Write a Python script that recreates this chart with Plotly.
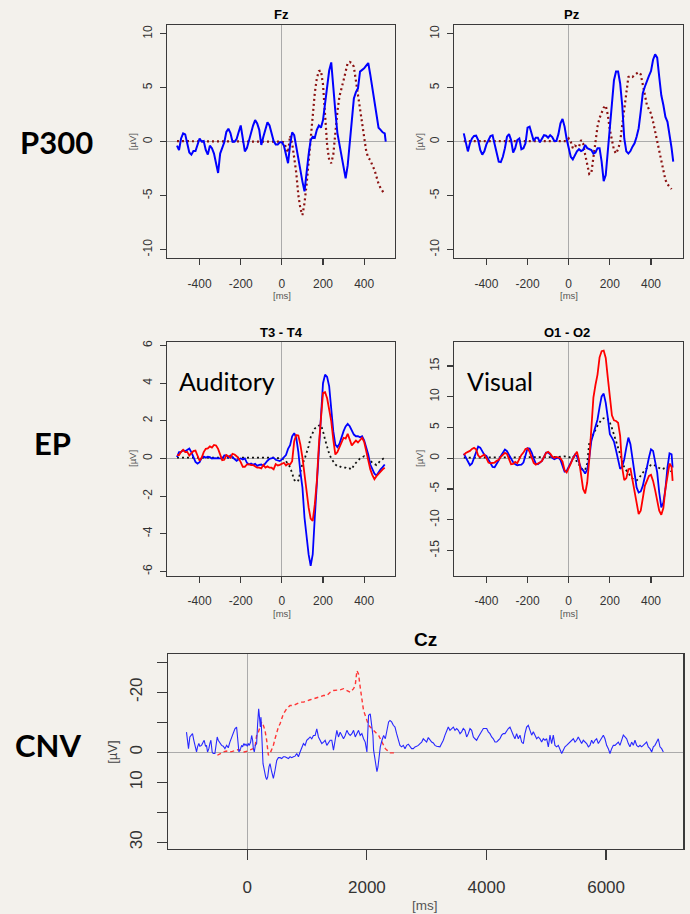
import numpy as np
import plotly.graph_objects as go

# ---------------- DATA ----------------
# P300 / EP time base (ms)
t_grid = list(range(-510, 501, 10))

# Fz
fz_blue_t = t_grid + [505]
fz_blue = [-0.37, -0.77, 0.3, 0.77, 0.68, -0.3, -1.0, -1.2, -0.87, -0.87,
           -0.15, 0.3, 0.0, 0.06, -0.77, -1.2, -0.37, -0.6, -1.1, -2.2,
           -2.9, -1.1, -0.6, -0.06, 0.9, 1.2, 0.8, 0.0, 0.0, 0.25,
           0.9, 1.5, 0.3, -0.9, -0.6, 0.15, 0.9, 1.5, 2.0, 1.7,
           1.1, -0.3, 0.45, 1.1, 1.8, 1.5, 0.7, 0.06, -0.25, -0.25,
           -0.06, -0.06, -0.37, -1.2, -2.0, -0.3, 0.87, 0.6, -0.46, -1.5,
           -2.9, -3.7, -4.6, -2.8, -1.2, 0.15, 0.46, 0.37, 1.1, 1.5,
           1.3, 2.0, 3.7, 5.4, 6.6, 7.35, 4.8, 2.8, 0.8, -0.3,
           -1.5, -2.6, -3.4, -2.2, 0.0, 2.5, 4.0, 4.6, 4.95, 6.5,
           6.65, 6.8, 7.05, 7.3, 6.2, 4.95, 3.4, 2.6, 1.3, 1.1,
           0.87, 0.77, 0.0]
fz_red_t = [-510, -400, -300, -200, -100, -10] + list(range(0, 501, 10))
fz_red = [0.05, 0.05, 0.05, 0.05, 0.05, 0.05,
          0.0, -0.06, -0.6, -1.0, 0.55, -0.15, -1.5, -2.9, -4.95, -6.2,
          -6.8, -5.7, -4.0, -1.85, 0.3, 2.5, 4.5, 5.9, 6.55, 6.6,
          5.3, 2.5, -0.3, -1.7, -2.0, -1.2, 0.9, 2.8, 4.2, 5.1,
          5.7, 6.5, 7.3, 7.4, 7.3, 6.95, 5.6, 4.3, 2.8, 1.55,
          0.25, -0.87, -1.5, -1.7, -2.2, -2.6, -3.25, -3.9, -4.3, -4.6,
          -4.9]

# Pz
pz_blue_t = t_grid + [508]
pz_blue = [0.77, -0.15, -0.9, -0.15, 0.3, 0.53, 0.56, 0.15, -0.77, -1.2,
           -0.9, -0.25, 0.15, 0.53, 0.6, -0.15, -0.9, -1.85, -1.9, -1.4,
           -0.6, 0.46, 0.7, 0.15, -1.0, -0.6, 0.15, 0.3, -0.7, -0.6,
           -0.15, 1.3, 1.4, 0.6, 0.06, 0.37, 0.37, -0.06, 0.25, 0.6,
           0.55, 0.37, 0.6, 0.43, 0.06, 0.06, 0.7, 1.7, 2.1, 1.4,
           0.25, -0.46, -1.4, -1.65, -1.3, -0.9, -0.7, -0.87, -0.77, -0.3,
           -0.6, -0.7, -0.77, -1.1, -1.0, -0.6, -0.6, -1.85, -3.65, -3.1,
           -0.77, 1.55, 4.0, 5.7, 6.5, 6.5, 5.4, 3.4, 0.3, -0.9,
           -1.1, -0.87, -0.46, -0.15, 0.46, 1.25, 2.8, 4.5, 5.1, 5.7,
           6.1, 6.55, 7.6, 8.1, 7.8, 6.0, 4.3, 3.4, 2.3, 1.85,
           0.77, -0.6, -1.85]
pz_red_t = [-510, -400, -300, -200, -100, -10] + list(range(0, 501, 10))
pz_red = [0.05, 0.05, 0.05, 0.05, 0.05, 0.05,
          0.3, 0.0, -0.6, -0.37, -0.46, -0.46, 0.15, -0.15, -1.2, -2.2,
          -3.0, -2.9, -1.55, 0.15, 1.4, 2.2, 2.6, 3.15, 3.35, 2.5,
          1.1, 0.0, -0.77, -1.1, -0.7, 0.0, 1.55, 3.4, 5.0, 6.0,
          6.1, 6.0, 6.2, 6.35, 6.45, 6.25, 5.4, 4.4, 3.4, 3.0,
          2.6, 1.85, 1.0, -0.15, -0.9, -1.7, -2.6, -3.55, -3.95, -4.2,
          -4.4]

# T3 - T4 (auditory)
aud_t = t_grid
aud_blue = [0.07, 0.34, 0.35, 0.44, 0.39, 0.48, 0.53, 0.34, 0.12, -0.18,
            -0.27, -0.2, 0.03, 0.1, 0.05, 0.09, 0.07, 0.0, 0.02, 0.0,
            0.0, 0.0, -0.02, 0.16, 0.16, 0.04, 0.16, 0.07, 0.02, -0.12,
            -0.04, 0.0, -0.05, 0.0, -0.23, -0.32, -0.27, -0.34, -0.28, -0.39,
            -0.34, -0.32, -0.39, -0.23, -0.12, -0.02, 0.02, 0.04, -0.07, -0.12,
            -0.14, -0.05, 0.04, 0.18, 0.51, 0.71, 1.18, 1.34, 1.1, 0.35,
            -0.71, -1.55, -3.14, -4.2, -5.1, -5.7, -5.1, -3.14, -1.2, 0.48,
            2.6, 4.0, 4.45, 4.33, 3.83, 2.6, 1.45, 0.74, 0.6, 0.78,
            1.18, 1.45, 1.7, 1.84, 1.71, 1.48, 1.27, 1.18, 1.18, 1.13,
            1.18, 0.97, 0.6, 0.21, -0.32, -0.62, -0.81, -0.9, -0.71, -0.58,
            -0.46, -0.32]
aud_red = [0.18, 0.18, 0.35, 0.46, 0.34, 0.35, 0.16, 0.28, 0.39, 0.42,
           0.12, -0.12, 0.04, 0.34, 0.51, 0.53, 0.64, 0.58, 0.72, 0.69,
           0.51, 0.21, -0.09, -0.07, 0.18, 0.12, 0.04, 0.25, 0.21, 0.12,
           0.0, -0.19, -0.44, -0.44, -0.32, -0.3, -0.35, -0.35, -0.41, -0.49,
           -0.49, -0.53, -0.34, -0.48, -0.42, -0.49, -0.49, -0.58, -0.3, -0.37,
           -0.34, -0.28, -0.23, -0.37, -0.28, -0.32, -0.14, 0.92, 1.24, 1.22,
           0.74, 0.04, -0.85, -1.9, -2.6, -3.2, -3.32, -2.44, -1.2, 0.74,
           2.33, 3.48, 3.52, 3.2, 2.6, 1.98, 1.0, 0.21, 0.34, 0.57,
           0.88, 1.1, 1.06, 1.31, 1.0, 0.69, 0.83, 0.95, 0.85, 0.95,
           1.1, 0.88, 0.35, -0.23, -0.58, -0.88, -1.1, -0.94, -0.8, -0.67,
           -0.58, -0.49]
aud_black_t = [-510, -400, -300, -200, -100, -50, 0, 20, 40, 50, 60, 70, 80, 90,
               100, 110, 120, 130, 140, 150, 160, 170, 180, 190, 200, 210, 220,
               230, 240, 250, 260, 270, 280, 290, 300, 310, 320, 330, 340, 350,
               360, 380, 400, 420, 440, 460, 470, 480, 500]
aud_black = [0.05, 0.05, 0.07, 0.05, 0.05, 0.05, 0.0, -0.14, -0.46, -0.85, -1.13,
             -1.25, -1.17, -0.71, -0.28, -0.05, 0.25, 0.65, 1.13, 1.41, 1.59,
             1.66, 1.75, 1.77, 1.45, 1.0, 0.6, 0.25, 0.0, -0.19, -0.32, -0.41,
             -0.41, -0.48, -0.49, -0.49, -0.55, -0.53, -0.58, -0.35, -0.23, 0.0,
             0.12, 0.0, -0.23, -0.35, -0.23, -0.1, 0.04]

# O1 - O2 (visual)
vis_t = t_grid + [505]
vis_blue = [0.76, 0.16, -0.43, -1.14, -0.86, 0.11, 1.19, 1.89, 1.73, 1.03,
            0.54, 0.38, -0.16, -0.86, -1.4, -1.46, -0.97, -0.32, 0.38, 0.97,
            1.4, 1.14, 0.54, -0.11, -0.65, -0.97, -1.14, -1.08, -1.03, -0.7,
            0.38, 1.62, 1.57, 0.92, -0.05, -0.86, -0.97, -0.76, -0.43, 0.22,
            0.92, 0.92, 0.65, 0.05, -0.16, 0.0, 0.11, -0.27, -1.3, -2.16,
            -2.05, -1.35, -0.76, -0.11, 0.59, 0.32, -0.7, -1.62, -1.95, -2.49,
            -1.84, 0.11, 2.8, 3.9, 4.97, 6.3, 8.3, 10.05, 10.5, 9.0,
            6.6, 3.9, 3.35, 2.7, 1.3, -0.16, -1.73, -1.4, -0.16, 1.73,
            3.35, 2.27, 0.11, -2.6, -4.75, -5.57, -5.4, -4.5, -3.24, -1.51,
            0.11, 1.46, 1.19, -0.43, -2.3, -5.57, -8.0, -7.2, -5.0, -1.5,
            0.81, 0.65, -1.5]
vis_red = [0.49, 0.86, 1.03, 1.19, 1.51, 1.68, 1.46, 0.43, 0.16, 0.43,
           0.59, 0.0, -0.7, -0.81, -0.7, -0.7, -0.43, -0.27, 0.22, 0.54,
           0.86, 0.7, 0.0, -0.97, -0.92, -0.59, -0.81, -0.11, 0.54, 0.92,
           1.51, 1.62, 1.03, 0.11, -0.76, -1.03, -0.92, -0.7, -0.43, 0.22,
           0.86, 1.03, 0.76, 0.27, 0.05, 0.22, 0.11, 0.0, -0.54, -1.95,
           -2.32, -1.68, -0.86, -0.05, 0.54, 1.08, -0.32, -2.86, -5.0, -5.73,
           -3.95, -0.16, 5.5, 9.84, 11.9, 13.6, 16.4, 17.4, 17.5, 16.3,
           13.1, 9.57, 6.97, 6.16, 6.05, 5.78, 3.62, -1.51, -3.57, -3.24,
           -1.78, -1.68, -3.57, -5.84, -7.73, -9.08, -8.54, -6.1, -4.49, -3.68,
           -2.86, -2.7, -3.68, -5.19, -6.92, -8.54, -9.19, -8.1, -5.0, -2.6,
           -0.86, -1.4, -3.68]
vis_black_t = [-510, -400, -300, -200, -100, -50, -20, 0, 20, 40, 60, 70, 80, 90,
               100, 110, 120, 130, 140, 150, 160, 170, 180, 190, 200, 210, 220,
               230, 240, 250, 260, 270, 280, 290, 300, 310, 320, 330, 340, 350,
               360, 370, 380, 390, 400, 410, 420, 430, 440, 450, 460, 470, 480,
               490, 500]
vis_black = [0.1, 0.1, 0.1, 0.15, 0.1, 0.2, 0.3, 0.1, 0.4, -0.5, -1.5, -2.0, -1.9,
             -0.8, 2.5, 3.3, 3.9, 4.6, 5.3, 5.9, 6.3, 6.5, 6.6, 6.4, 5.8, 4.9,
             3.8, 2.6, 1.4, 0.3, -0.7, -1.5, -2.0, -2.5, -3.0, -3.3, -3.5, -3.6,
             -3.3, -2.8, -2.3, -1.9, -1.6, -1.3, -1.1, -1.0, -1.2, -1.5, -1.7,
             -1.8, -1.7, -1.5, -1.4, -1.8, -2.2]

# Cz (CNV), ms and microvolts (axis drawn negative-up)
cz_blue_t = [-1017, -1000, -983, -961, -933, -916, -894, -872, -849, -832, -810,
             -793, -765, -737, -721, -698, -682, -665, -643, -626, -609, -587,
             -570, -542, -525, -503, -486, -458, -430, -402, -374, -346, -318,
             -291, -263, -235, -207, -179, -162, -140, -112, -95, -78, -56, -39,
             -22, 0, 17, 34, 56, 73, 89, 101, 117, 134, 156, 173, 190, 201, 218,
             229, 240, 251, 263, 274, 291, 307, 324, 341, 363, 380, 408, 436,
             464, 492, 520, 548, 575, 603, 631, 659, 687, 715, 743, 771, 799,
             827, 855, 883, 911, 939, 967, 994, 1022, 1050, 1078, 1106, 1134,
             1162, 1190, 1218, 1246, 1274, 1302, 1330, 1358, 1386, 1413, 1441,
             1469, 1497, 1525, 1553, 1581, 1609, 1637, 1665, 1693, 1721, 1749,
             1777, 1805, 1833, 1860, 1888, 1916, 1944, 1972, 2000, 2028, 2056,
             2073, 2084, 2101, 2112, 2140, 2168, 2185, 2196, 2224, 2252, 2280,
             2308, 2336, 2363,
             2386, 2414, 2442, 2470, 2497, 2525, 2553, 2581, 2609, 2637, 2665,
             2693, 2720, 2748, 2776, 2804, 2832, 2860, 2888, 2916, 2943, 2971,
             2999, 3027, 3055, 3083, 3111, 3138, 3166, 3194, 3222, 3250, 3278,
             3306, 3334, 3361, 3389, 3417, 3445, 3473, 3501, 3529, 3557, 3584,
             3612, 3640, 3668, 3696, 3724, 3752, 3780, 3807, 3835, 3863, 3891,
             3919, 3947, 3975, 4003, 4030, 4058, 4086, 4114, 4142, 4170, 4198,
             4225, 4253, 4281, 4309, 4337, 4365, 4393, 4421, 4448, 4476, 4504,
             4532, 4560, 4588, 4616, 4643, 4671, 4699, 4727, 4755, 4783, 4811,
             4839, 4866, 4894, 4922, 4950, 4978, 5006, 5034, 5062, 5089, 5117,
             5145, 5173, 5201, 5229, 5257, 5284, 5312, 5340, 5368, 5396, 5424,
             5452, 5480, 5507, 5535, 5563, 5591, 5619, 5647, 5675, 5703, 5730,
             5758, 5786, 5814, 5842, 5870, 5898, 5926, 5954, 5981, 6009, 6037,
             6065, 6093, 6121, 6149, 6176, 6204, 6232, 6260, 6288, 6316, 6344,
             6372, 6399, 6427, 6455, 6483, 6511, 6539, 6567, 6595, 6622, 6650,
             6678, 6706, 6734, 6762, 6790, 6817, 6845, 6873, 6901, 6929, 6957]
cz_blue = [-6.7, -4.5, -1.2, -5.1, -5.6, -6.2, -4.0, -2.3, -0.1, -1.8, -2.9,
           -2.0, -2.3, -3.4, -4.0, -2.0, -2.3, -0.1, -1.2, -2.9, -4.0, -0.1,
           0.4, 0.4, -1.8, -5.1, -4.0, -2.9, -2.3, -2.0, -1.2, -2.3, -1.5,
           -3.4, -5.1, -6.7, -7.8, -8.4, -5.1, -0.1, -1.2, -2.3, -1.8, -2.9, -2.3,
           -2.7, -2.0, -2.9, -2.3, -3.4, -5.6, -4.0, -1.2, -0.1, -2.3, -2.9, -9.5,
           -14.5, -12.3, -8.4, -11.7, -5.1, -0.7, 3.8, 4.9, 7.1, 8.2, 9.1, 8.2,
           4.9, 3.8, 6.5, 8.7, 6.0, 2.7, 1.8, 1.8, 2.1, 1.5, 1.5, 1.8, 2.1, 1.5,
           1.8, 1.5, 1.3, 0.4, 1.5, -0.1, -1.8, -2.9, -2.3, -4.0, -4.5, -5.1,
           -4.5, -5.6, -5.6, -7.8, -5.1, -4.0, -2.9, -3.4, -4.0, -2.3, -3.4, -4.0,
           -4.0, -0.7, -4.0, -7.3, -5.1, -6.7, -5.6, -4.5, -5.6, -7.3, -6.2, -5.6,
           -6.2, -7.3, -5.1, -6.2, -7.3, -5.6, -6.2, -4.5, -3.4, -0.1, -12.3,
           -12.8, -10.6, -8.4, -5.6, -0.7, 2.7, 6.5, 4.9, 2.1, -1.8, -4.0, -5.6,
           -4.5, -7.3, -10.1,
           -10.6, -10.1, -9.0, -8.4, -6.2, -4.0, -2.3, -1.8, -2.3, -1.2, -2.3,
           -2.7, -2.0, -1.2, -1.2, -1.8, -2.0, -2.3, -2.9, -3.4, -4.5, -4.0,
           -3.4, -4.9, -4.0, -3.4, -3.1, -2.3, -2.0, -1.8, -1.8, -2.9, -4.0,
           -5.7, -6.8, -8.4, -7.3, -7.9, -8.4, -7.3, -7.9, -7.3, -6.2, -6.8,
           -7.9, -7.3, -5.1, -6.2, -7.9, -7.3, -5.1, -4.5, -4.0, -5.1, -6.2,
           -6.8, -7.9, -7.9, -7.9, -6.8, -6.2, -5.1, -4.5, -3.4, -3.4, -4.0,
           -4.5, -5.7, -6.2, -6.2, -7.3, -7.9, -8.4, -7.3, -5.7, -4.5, -6.2,
           -4.5, -5.7, -3.4, -2.9, -6.2, -8.4, -9.0, -7.3, -5.7, -6.8, -5.7,
           -4.5, -5.1, -4.5, -3.4, -4.5, -4.0, -4.5, -1.8, -5.7, -2.9, -5.7,
           -2.3, -1.8, -2.3, -0.7, 0.4, -0.7, -1.8, -2.3, -2.9, -3.4, -4.0,
           -4.5, -3.4, -4.0, -5.1, -4.0, -2.9, -4.0, -3.4, -2.9, -1.8, -2.3,
           -4.0, -2.9, -4.0, -4.5, -2.9, -4.0, -5.1, -5.7, -4.5, -2.3, -1.2,
           0.4, -1.2, -2.3, -2.3, -2.9, -3.4, -2.3, -4.5, -5.7, -5.1, -4.5,
           -2.9, -1.8, -3.4, -2.3, -4.0, -2.3, -1.8, -2.3, -1.8, -2.3, -2.9,
           -3.4, -1.8, -1.2, -0.1, -1.8, -2.3, -3.4, -4.5, -1.8, -1.2, -0.1]
cz_red_t = [-500, -450, -400, -350, -300, -250, -200, -150, -100, -50, 0, 50,
            100, 130, 156, 185, 212, 240, 268, 296, 324, 352, 380, 408, 436,
            464, 492, 520, 548, 603, 659, 715, 771, 827, 883, 939, 994, 1050,
            1106, 1162, 1218, 1274, 1330, 1386, 1441, 1497, 1553, 1609, 1665,
            1721, 1777, 1805, 1833, 1860, 1888, 1916, 1944, 1972, 2000, 2028,
            2056, 2084, 2112, 2140, 2168, 2196, 2224, 2252, 2280, 2308, 2336,
            2363, 2391, 2500]
cz_red = [1.0, 0.4, -0.1, -0.4, -0.1, -0.3, -0.7, -0.9, -0.4, -0.1, -0.4, -0.8,
          -1.2, -1.8, -5.6, -6.7, -8.4, -10.1, -9.0, -7.3, -4.0, 1.0, 0.4, -0.7,
          -2.3, -4.5, -6.7, -8.4, -9.5, -12.8, -14.5, -15.6, -15.6, -16.1,
          -16.7, -16.7, -17.2, -17.5, -17.8, -18.1, -18.6, -18.9, -18.9, -20.0,
          -20.6, -20.6, -20.8, -21.2, -20.6, -20.0, -21.2, -22.3, -27.2, -26.1,
          -21.7, -17.2, -13.9, -12.3, -10.6, -9.0, -8.4, -7.8, -7.3, -6.7, -6.2,
          -5.6, -4.5, -3.4, -2.3, -1.2, -0.7, -0.1, 0.2, 0.2]

# tick values and labels (ASCII hyphen minus, as in the original)
p300_xticks = [-400, -200, 0, 200, 400]
p300_xtext = ['-400', '-200', '0', '200', '400']
p300_yticks = [-10, -5, 0, 5, 10]
p300_ytext = ['-10', '-5', '0', '5', '10']
aud_yticks = [-6, -4, -2, 0, 2, 4, 6]
aud_ytext = ['-6', '-4', '-2', '0', '2', '4', '6']
vis_yticks = [-15, -10, -5, 0, 5, 10, 15]
vis_ytext = ['-15', '-10', '-5', '0', '5', '10', '15']
cz_xticks = [0, 2000, 4000, 6000]
cz_xtext = ['0', '2000', '4000', '6000']
cz_yticks = [-30, -20, -10, 0, 10, 20, 30]
cz_ytext = ['', '-20', '', '0', '10', '', '30']

# ---------------- FIGURE ----------------
W, H = 690, 914
BG = '#f3f1ec'
AXC = '#3a3a3a'
TICKFONT = 'Liberation Sans, Arial, sans-serif'


def dx(a, b):
    return [a / W, b / W]


def dy(top, bottom):
    return [1 - bottom / H, 1 - top / H]


def axis(domain, rng, tickvals, ticktext, size, ticklen, standoff, anchor, angle=0):
    return dict(domain=domain, range=rng, tickvals=tickvals, ticktext=ticktext, anchor=anchor,
                showline=True, mirror=True, linecolor=AXC, linewidth=1.2,
                ticks='outside', ticklen=ticklen, tickwidth=1.2, tickcolor=AXC,
                showgrid=False, zeroline=True, zerolinecolor='#ababab', zerolinewidth=1.2,
                tickfont=dict(family=TICKFONT, size=size, color='#333333'),
                ticklabelstandoff=standoff, tickangle=angle, fixedrange=True)


fig = go.Figure()

BLUE = '#0000ff'
RED = '#ff0000'
DRED = '#8b1010'
DOT = '2px,3px'

# Fz
fig.add_trace(go.Scatter(x=fz_red_t, y=fz_red, mode='lines', line=dict(color=DRED, width=2.2, dash=DOT), xaxis='x', yaxis='y'))
fig.add_trace(go.Scatter(x=fz_blue_t, y=fz_blue, mode='lines', line=dict(color=BLUE, width=2.0), xaxis='x', yaxis='y'))
# Pz
fig.add_trace(go.Scatter(x=pz_red_t, y=pz_red, mode='lines', line=dict(color=DRED, width=2.2, dash=DOT), xaxis='x2', yaxis='y2'))
fig.add_trace(go.Scatter(x=pz_blue_t, y=pz_blue, mode='lines', line=dict(color=BLUE, width=2.0), xaxis='x2', yaxis='y2'))
# T3 - T4
fig.add_trace(go.Scatter(x=aud_black_t, y=aud_black, mode='lines', line=dict(color='#111111', width=1.8, dash=DOT), xaxis='x3', yaxis='y3'))
fig.add_trace(go.Scatter(x=aud_t, y=aud_blue, mode='lines', line=dict(color=BLUE, width=1.8), xaxis='x3', yaxis='y3'))
fig.add_trace(go.Scatter(x=aud_t, y=aud_red, mode='lines', line=dict(color=RED, width=1.8), xaxis='x3', yaxis='y3'))
# O1 - O2
fig.add_trace(go.Scatter(x=vis_black_t, y=vis_black, mode='lines', line=dict(color='#111111', width=1.8, dash=DOT), xaxis='x4', yaxis='y4'))
fig.add_trace(go.Scatter(x=vis_t, y=vis_blue, mode='lines', line=dict(color=BLUE, width=1.8), xaxis='x4', yaxis='y4'))
fig.add_trace(go.Scatter(x=vis_t, y=vis_red, mode='lines', line=dict(color=RED, width=1.8), xaxis='x4', yaxis='y4'))
# Cz
fig.add_trace(go.Scatter(x=cz_red_t, y=cz_red, mode='lines', line=dict(color='#ff3535', width=1.4, dash='4px,3px'), xaxis='x5', yaxis='y5'))
fig.add_trace(go.Scatter(x=cz_blue_t, y=cz_blue, mode='lines', line=dict(color='#2828ff', width=1.1), xaxis='x5', yaxis='y5'))

layout = dict(
    width=W, height=H, margin=dict(l=0, r=0, t=0, b=0),
    paper_bgcolor=BG, plot_bgcolor=BG, showlegend=False, hovermode=False,
    xaxis=axis(dx(167.3, 395), [-557, 550], p300_xticks, p300_xtext, 12, 6, 8, 'y'),
    yaxis=axis(dy(23.3, 256.7), [-10.8, 10.8], p300_yticks, p300_ytext, 12, 6, 3, 'x', angle=-90),
    xaxis2=axis(dx(454.3, 682.7), [-556, 554], p300_xticks, p300_xtext, 12, 6, 8, 'y2'),
    yaxis2=axis(dy(23.3, 256.7), [-10.8, 10.8], p300_yticks, p300_ytext, 12, 6, 3, 'x2', angle=-90),
    xaxis3=axis(dx(167.3, 395), [-557, 550], p300_xticks, p300_xtext, 12, 6, 8, 'y3'),
    yaxis3=axis(dy(340.7, 575), [-6.23, 6.19], aud_yticks, aud_ytext, 12, 6, 3, 'x3', angle=-90),
    xaxis4=axis(dx(454.3, 682.7), [-556, 554], p300_xticks, p300_xtext, 12, 6, 8, 'y4'),
    yaxis4=axis(dy(340.7, 575), [-19.1, 18.9], vis_yticks, vis_ytext, 12, 6, 3, 'x4', angle=-90),
    xaxis5=axis(dx(168.3, 683.3), [-1321, 7291], cz_xticks, cz_xtext, 17, 10, 12, 'y5'),
    yaxis5=axis(dy(653.3, 849), [32.3, -32.8], cz_yticks, cz_ytext, 17, 10, 8, 'x5', angle=-90),
)
fig.update_layout(**layout)


def ann(text, x, y, size, family='Liberation Sans, Arial, sans-serif', color='#000000',
        angle=0, xanchor='center', yanchor='middle'):
    fig.add_annotation(text=text, x=x / W, y=1 - y / H, xref='paper', yref='paper',
                       showarrow=False, textangle=angle, xanchor=xanchor, yanchor=yanchor,
                       font=dict(family=family, size=size, color=color))


# panel titles
ann('<b>Fz</b>', 281, 13, 13)
ann('<b>Pz</b>', 571.5, 13, 13)
ann('<b>T3 - T4</b>', 281.5, 331, 13)
ann('<b>O1 - O2</b>', 567, 331, 13)
ann('<b>Cz</b>', 425, 638.5, 19)

# axis titles
for xc in (281.7, 568.7):
    ann('[ms]', xc, 294, 9.5, color='#555555')
    ann('[ms]', xc, 613, 9.5, color='#555555')
ann('[ms]', 425, 905, 13.5, color='#555555')
for xc in (132.5, 419.5):
    ann('[µV]', xc, 140, 9.5, color='#555555', angle=-90)
    ann('[µV]', xc, 457.5, 9.5, color='#555555', angle=-90)
ann('[µV]', 112.5, 752, 13, color='#444444', angle=-90)

# row labels
ann('<b>P300</b>', 56.5, 140, 31, family='Lato, sans-serif')
ann('<b>EP</b>', 52.8, 441.5, 31, family='Lato, sans-serif')
ann('<b>CNV</b>', 47.5, 745, 31, family='Lato, sans-serif')

# modality labels
ann('Auditory', 176.5, 380, 25, family='Lato, sans-serif', xanchor='left')
ann('Visual', 465, 380, 25, family='Lato, sans-serif', xanchor='left')

fig.write_html('out.html', config={'displayModeBar': False, 'staticPlot': True},
               post_script="document.body.style.margin='0';document.body.style.overflow='hidden';")
